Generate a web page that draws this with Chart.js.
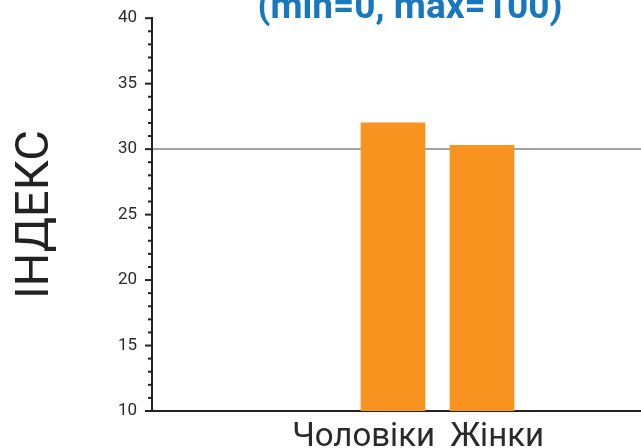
<!DOCTYPE html>
<html lang="uk">
<head>
<meta charset="UTF-8">
<title>Індекс</title>
<script src="https://cdn.jsdelivr.net/npm/chart.js"></script>
<style>
    html, body { margin: 0; padding: 0; background: #fff; }
    #wrap { position: relative; width: 641px; height: 448px; overflow: hidden; }
    #chartTitle {
        position: absolute;
        left: 410px;
        top: -13px;
        transform: translateX(-50%);
        font: bold 37px Roboto, sans-serif;
        line-height: 1;
        color: #1777bf;
        white-space: nowrap;
    }
    canvas { position: absolute; left: 0; top: -7px; }
</style>
</head>
<body>
<div id="wrap">
    <canvas id="indexChart" width="641" height="455"></canvas>
    <div id="chartTitle">(min=0, max=100)</div>
</div>
<script>
// Data
const categories = ['Чоловіки', 'Жінки'];
const indexValues = [32.0, 30.3];
const yTicks = [10, 15, 20, 25, 30, 35, 40];
const referenceLine = 30;

const labelShift = [-0.33, 0.17]; // labels sit a bit off the bar centres

// minor + major tick marks on the y axis
const tickMarks = {
    id: 'tickMarks',
    afterDraw(chart) {
        const y = chart.scales.y;
        const ctx = chart.ctx;
        ctx.save();
        ctx.strokeStyle = '#222';
        ctx.lineWidth = 2;
        for (let v = yTicks[0]; v <= yTicks[yTicks.length - 1]; v++) {
            const len = v % 5 === 0 ? 7 : 4;
            const py = y.getPixelForValue(v);
            ctx.beginPath();
            ctx.moveTo(y.right - len, py);
            ctx.lineTo(y.right, py);
            ctx.stroke();
        }
        ctx.restore();
    }
};

const ctx = document.getElementById('indexChart').getContext('2d');
new Chart(ctx, {
    type: 'bar',
    data: {
        datasets: [{
            data: categories.map((c, i) => ({ x: i, y: indexValues[i] })),
            backgroundColor: '#f7931e',
            barThickness: 64
        }]
    },
    options: {
        responsive: false,
        animation: false,
        layout: { padding: { top: 10, right: 0, left: 0, bottom: 0 } },
        plugins: {
            legend: { display: false },
            tooltip: { enabled: false }
        },
        scales: {
            x: {
                type: 'linear',
                offset: false,
                bounds: 'data',
                min: -2.708,
                max: 2.787,
                grid: { display: false, drawTicks: false },
                border: { color: '#222', width: 2 },
                afterBuildTicks(scale) {
                    scale.ticks = categories.map((c, i) => ({ value: i + labelShift[i] }));
                },
                afterFit(scale) { scale.height = 37; },
                ticks: {
                    padding: 7,
                    maxRotation: 0,
                    autoSkip: false,
                    color: '#2a2a2a',
                    font: { family: 'Roboto', size: 33 },
                    callback: (v, i) => categories[i]
                }
            },
            y: {
                min: yTicks[0],
                max: yTicks[yTicks.length - 1],
                afterBuildTicks(scale) {
                    scale.ticks = yTicks.map(v => ({ value: v }));
                },
                afterFit(scale) { scale.width = 152; },
                grid: {
                    drawTicks: false,
                    lineWidth: 2,
                    color: c => (c.tick && c.tick.value === referenceLine) ? '#a3a3a3' : 'rgba(0,0,0,0)'
                },
                border: { color: '#222', width: 2 },
                ticks: {
                    padding: 15,
                    color: '#2a2a2a',
                    font: { family: 'Roboto', size: 17 }
                },
                title: {
                    display: true,
                    text: 'ІНДЕКС',
                    color: '#222',
                    font: { family: 'Roboto', size: 47 },
                    padding: { top: 8, bottom: 0 }
                }
            }
        }
    },
    plugins: [tickMarks]
});
</script>
</body>
</html>
